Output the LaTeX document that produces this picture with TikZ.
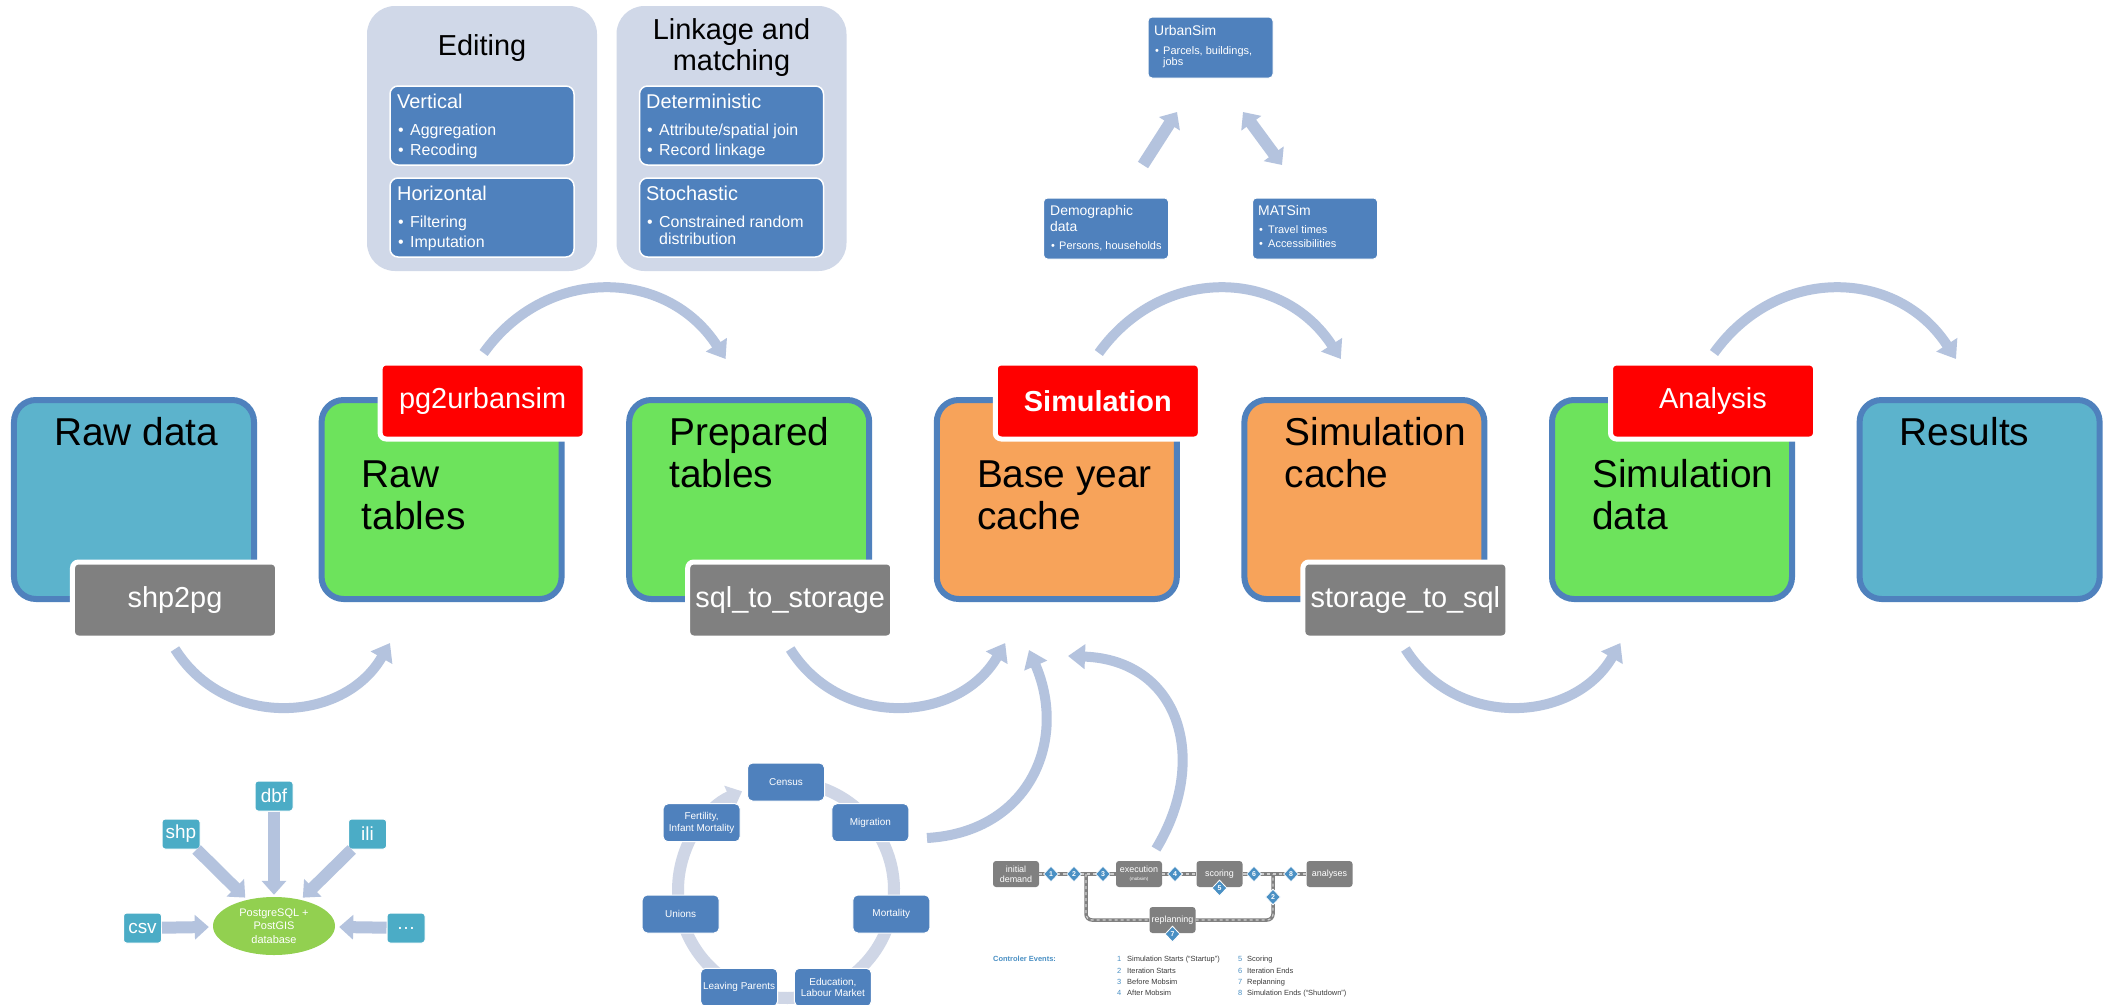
\documentclass[tikz,border=0pt]{standalone}
\usepackage{fontspec}
\setmainfont{Liberation Sans}
\usetikzlibrary{arrows.meta,shapes.geometric}

\definecolor{flowarrow}{RGB}{180,195,222}
\definecolor{panelbg}{RGB}{208,216,232}
\definecolor{accentblue}{RGB}{79,129,189}
\definecolor{rawblue}{RGB}{92,179,204}
\definecolor{tablegreen}{RGB}{109,227,92}
\definecolor{cacheorange}{RGB}{247,163,90}
\definecolor{toolgray}{RGB}{128,128,128}
\definecolor{formatteal}{RGB}{75,172,198}
\definecolor{dbgreen}{RGB}{146,208,80}
\definecolor{ringcol}{RGB}{207,214,230}
\definecolor{eventblue}{RGB}{74,144,196}
\definecolor{eventtext}{RGB}{60,60,60}
\definecolor{railgray}{RGB}{205,205,205}

\newcommand\setfs[1]{\fontsize{#1}{#1}\selectfont}
\newcommand\setfsl[2]{\fontsize{#1}{#2}\selectfont}

\begin{document}
\begin{tikzpicture}[x=1bp, y=-1bp,
  stage/.style={draw=accentblue, line width=6bp, rounded corners=22bp,
    minimum width=240bp, minimum height=199bp, inner sep=0pt},
  stagetext/.style={anchor=base west, inner sep=0pt, font=\setfs{39}},
  tooltag/.style={draw=white, line width=5bp, rounded corners=6bp,
    minimum width=205bp, minimum height=76bp, inner sep=0pt, text=white, font=\setfs{29}},
  redtag/.style={tooltag, fill=red},
  graytag/.style={tooltag, fill=toolgray},
  flow/.style={draw=flowarrow, line width=10bp, -{Triangle[width=24bp,length=17bp]}},
  block/.style={draw=flowarrow, line width=12bp, -{Triangle[width=24bp,length=14bp]}},
  panel/.style={fill=panelbg, rounded corners=28bp, minimum width=230bp,
    minimum height=265bp, inner sep=0pt},
  paneltitle/.style={anchor=base, inner sep=0pt, font=\setfs{29}},
  card/.style={fill=accentblue, draw=white, line width=1.5bp, rounded corners=8bp,
    minimum width=184bp, minimum height=79bp, inner sep=0pt},
  cardhead/.style={anchor=base west, inner sep=0pt, text=white, font=\setfs{20}},
  carditem/.style={anchor=base west, inner sep=0pt, text=white, font=\setfs{16}},
  usim/.style={fill=accentblue, draw=white, line width=1bp, rounded corners=4bp,
    minimum width=125bp, minimum height=61bp, inner sep=0pt},
  usimhead/.style={anchor=base west, inner sep=0pt, text=white, font=\setfs{14}},
  usimitem/.style={anchor=base west, inner sep=0pt, text=white, font=\setfs{11}},
  fmt/.style={fill=formatteal, draw=white, line width=1bp, rounded corners=3bp,
    minimum width=38bp, minimum height=30bp, inner sep=0pt, text=white, font=\setfs{19}},
  dbnode/.style={ellipse, fill=dbgreen, minimum width=122bp, minimum height=58bp,
    inner sep=0pt, text=white, align=center, font=\setfsl{11}{13.5}},
  demo/.style={fill=accentblue, draw=white, line width=1bp, rounded corners=5bp,
    minimum width=77bp, minimum height=38bp, inner sep=0pt, text=white,
    align=center, font=\setfsl{10}{11.5}},
  ring/.style={draw=ringcol, line width=12bp, -{Triangle[width=24bp,length=14bp]}},
  mbox/.style={fill=toolgray, rounded corners=3bp, minimum width=46bp,
    minimum height=26bp, inner sep=0pt, text=white, align=center, font=\setfsl{9}{10}},
  rail/.style={draw=toolgray, line width=3.5bp},
  railmark/.style={draw=railgray, line width=1.2bp, dash pattern=on 3bp off 3bp},
  evt/.style={diamond, fill=eventblue, draw=white, line width=0.8bp,
    minimum width=15bp, minimum height=16bp, inner sep=0pt, text=white,
    font=\bfseries\setfs{7}},
  legnum/.style={anchor=base west, inner sep=0pt, text=eventblue, font=\setfs{7.5}},
  legtext/.style={anchor=base west, inner sep=0pt, text=eventtext, font=\setfs{7.5}},
]

\fill[white] (0,0) rectangle (2111,1005);
\useasboundingbox (0,0) rectangle (2111,1005);

% ---------- connecting arcs between the stages ----------
\coordinate (arcA-s) at (175,649);    \coordinate (arcA-e) at (390,643);
\coordinate (arcB-s) at (790.2,649);  \coordinate (arcB-e) at (1005.2,643);
\coordinate (arcC-s) at (1405.4,649); \coordinate (arcC-e) at (1620.4,643);
\coordinate (arcD-s) at (483.6,353);  \coordinate (arcD-e) at (725.6,359);
\coordinate (arcE-s) at (1098.8,353); \coordinate (arcE-e) at (1340.8,359);
\coordinate (arcF-s) at (1714,353);   \coordinate (arcF-e) at (1956,359);

\draw[flow] (arcA-s) .. controls (225,729) and (343,724) .. (arcA-e);
\draw[flow] (arcB-s) .. controls (840.2,729) and (958.2,724) .. (arcB-e);
\draw[flow] (arcC-s) .. controls (1455.4,729) and (1573.4,724) .. (arcC-e);
\draw[flow] (arcD-s) .. controls (546.6,265) and (666.6,268) .. (arcD-e);
\draw[flow] (arcE-s) .. controls (1161.8,265) and (1281.8,268) .. (arcE-e);
\draw[flow] (arcF-s) .. controls (1777,265) and (1897,268) .. (arcF-e);

% inputs feeding the base year cache
\coordinate (demo-out) at (927,838);   \coordinate (demo-in) at (1029,650);
\coordinate (ctrl-out) at (1156,849);  \coordinate (ctrl-in) at (1068,656);
\draw[flow] (demo-out) .. controls (1030,832) and (1068,740) .. (demo-in);
\draw[flow] (ctrl-out) .. controls (1210,760) and (1180,660) .. (ctrl-in);

% ---------- stages ----------
\node[stage, fill=rawblue]     (rawdata)    at (134,499.5)    {};
\node[stage, fill=tablegreen]  (rawtables)  at (441.6,499.5)  {};
\node[stage, fill=tablegreen]  (preptables) at (749.2,499.5)  {};
\node[stage, fill=cacheorange] (basecache)  at (1056.8,499.5) {};
\node[stage, fill=cacheorange] (simcache)   at (1364.4,499.5) {};
\node[stage, fill=tablegreen]  (simdata)    at (1672,499.5)   {};
\node[stage, fill=rawblue]     (results)    at (1979.6,499.5) {};

\node[stagetext] (rawdata-l1)    at (54,445)     {Raw data};
\node[stagetext] (rawtables-l1)  at (361.6,487)  {Raw};
\node[stagetext] (rawtables-l2)  at (361.6,529)  {tables};
\node[stagetext] (preptables-l1) at (669.2,445)  {Prepared};
\node[stagetext] (preptables-l2) at (669.2,487)  {tables};
\node[stagetext] (basecache-l1)  at (976.8,487)  {Base year};
\node[stagetext] (basecache-l2)  at (976.8,529)  {cache};
\node[stagetext] (simcache-l1)   at (1284.4,445) {Simulation};
\node[stagetext] (simcache-l2)   at (1284.4,487) {cache};
\node[stagetext] (simdata-l1)    at (1592,487)   {Simulation};
\node[stagetext] (simdata-l2)    at (1592,529)   {data};
\node[stagetext] (results-l1)    at (1899.6,445) {Results};

% ---------- tools ----------
\node[redtag]  (pg2urbansim)  at (482.6,401)  {pg2urbansim};
\node[redtag]  (simulation)   at (1097.8,401) {\bfseries Simulation};
\node[redtag]  (analysis)     at (1713,401)   {Analysis};
\node[graytag] (shp2pg)       at (175,600)    {shp2pg};
\node[graytag] (sqltostorage) at (790.2,600)  {sql\_to\_storage};
\node[graytag] (storagetosql) at (1405.4,600) {storage\_to\_sql};

% ---------- editing / linkage panels ----------
\node[panel] (editing) at (482,138.5) {};
\node[panel] (linkage) at (731.5,138.5) {};
\node[paneltitle] (editing-l1) at (482,55)   {Editing};
\node[paneltitle] (linkage-l1) at (731.5,39) {Linkage and};
\node[paneltitle] (linkage-l2) at (731.5,70) {matching};

\node[card] (vertical)      at (482,125.5)   {};
\node[card] (horizontal)    at (482,217.5)   {};
\node[card] (deterministic) at (731.5,125.5) {};
\node[card] (stochastic)    at (731.5,217.5) {};

\node[cardhead] (vertical-h)      at (397,108) {Vertical};
\node[carditem] (vertical-b1)     at (398,135) {\textbullet};
\node[carditem] (vertical-i1)     at (410,135) {Aggregation};
\node[carditem] (vertical-b2)     at (398,155) {\textbullet};
\node[carditem] (vertical-i2)     at (410,155) {Recoding};
\node[cardhead] (horizontal-h)    at (397,200) {Horizontal};
\node[carditem] (horizontal-b1)   at (398,227) {\textbullet};
\node[carditem] (horizontal-i1)   at (410,227) {Filtering};
\node[carditem] (horizontal-b2)   at (398,247) {\textbullet};
\node[carditem] (horizontal-i2)   at (410,247) {Imputation};
\node[cardhead] (deterministic-h) at (646,108) {Deterministic};
\node[carditem] (deterministic-b1) at (647,135) {\textbullet};
\node[carditem] (deterministic-i1) at (659,135) {Attribute/spatial join};
\node[carditem] (deterministic-b2) at (647,155) {\textbullet};
\node[carditem] (deterministic-i2) at (659,155) {Record linkage};
\node[cardhead] (stochastic-h)    at (646,200) {Stochastic};
\node[carditem] (stochastic-b1)   at (647,227) {\textbullet};
\node[carditem] (stochastic-i1)   at (659,227) {Constrained random};
\node[carditem] (stochastic-i2)   at (659,244) {distribution};

% ---------- model coupling ----------
\node[usim] (urbansim) at (1210.5,47.5) {};
\node[usim] (demog)    at (1106,228.5)  {};
\node[usim] (matsim)   at (1315,228.5)  {};

\node[usimhead] (urbansim-h)  at (1154,35)  {UrbanSim};
\node[usimitem] (urbansim-b1) at (1155,54)  {\textbullet};
\node[usimitem] (urbansim-i1) at (1163,54)  {Parcels, buildings,};
\node[usimitem] (urbansim-i2) at (1163,65)  {jobs};
\node[usimhead] (demog-h1)    at (1050,215) {Demographic};
\node[usimhead] (demog-h2)    at (1050,231) {data};
\node[usimitem] (demog-b1)    at (1051,249) {\textbullet};
\node[usimitem] (demog-i1)    at (1059,249) {Persons, households};
\node[usimhead] (matsim-h)    at (1258,215) {MATSim};
\node[usimitem] (matsim-b1)   at (1259,233) {\textbullet};
\node[usimitem] (matsim-i1)   at (1268,233) {Travel times};
\node[usimitem] (matsim-b2)   at (1259,247) {\textbullet};
\node[usimitem] (matsim-i2)   at (1268,247) {Accessibilities};

\coordinate (demog-up)    at (1143,165);
\coordinate (urbansim-dl) at (1177,112);
\coordinate (urbansim-dr) at (1243,112);
\coordinate (matsim-up)   at (1282,165);
\draw[block] (demog-up) -- (urbansim-dl);
\draw[block, {Triangle[width=24bp,length=14bp]}-{Triangle[width=24bp,length=14bp]}]
  (urbansim-dr) -- (matsim-up);

% ---------- raw formats into the database ----------
\node[fmt] (dbf)  at (274,796)   {dbf};
\node[fmt] (shp)  at (181,834)   {shp};
\node[fmt] (ili)  at (367.5,834) {ili};
\node[fmt] (csv)  at (142.5,928) {csv};
\node[fmt] (more) at (406,928)   {…};
\node[dbnode] (pgdb) at (274,926) {PostgreSQL +\\PostGIS\\database};

\draw[block, shorten >=3bp] (shp)  -- (pgdb);
\draw[block, shorten >=2bp] (dbf)  -- (pgdb);
\draw[block, shorten >=3bp] (ili)  -- (pgdb);
\draw[block, shorten >=4bp] (csv)  -- (pgdb);
\draw[block, shorten >=4bp] (more) -- (pgdb);

% ---------- demography cycle ----------
\draw[ring] (786,890) ++(-85:108) arc[start angle=-85, end angle=246, radius=108];
\node[demo] (census)    at (786,782)     {Census};
\node[demo] (migration) at (870.4,822.7) {Migration};
\node[demo] (mortality) at (891.3,914)   {Mortality};
\node[demo] (education) at (832.9,987.3) {Education,\\Labour Market};
\node[demo] (leaving)   at (739.1,987.3) {Leaving Parents};
\node[demo] (unions)    at (680.7,914)   {Unions};
\node[demo] (fertility) at (701.6,822.7) {Fertility,\\Infant Mortality};

% ---------- MATSim controler loop ----------
\node[mbox] (initdem)  at (1016,874)    {initial\\demand};
\node[mbox] (exec)     at (1139,874)    {execution\\[-2bp]{\setfs{4.5}(mobsim)}};
\node[mbox] (scoring)  at (1219.5,874)  {scoring};
\node[mbox] (analyses) at (1329.5,874)  {analyses};
\node[mbox] (replan)   at (1172.5,920)  {replanning};
\coordinate (loop-a) at (1086,874);
\coordinate (loop-b) at (1273,874);

\foreach \sty in {rail, railmark}{
  \draw[\sty] (initdem.east) -- (exec.west);
  \draw[\sty] (exec.east) -- (scoring.west);
  \draw[\sty] (scoring.east) -- (analyses.west);
  \draw[\sty, rounded corners=6bp] (loop-a) |- (replan.west);
  \draw[\sty, rounded corners=6bp] (replan.east) -| (loop-b);
}

\node[evt] (ev1)  at (1051,874)    {1};
\node[evt] (ev2)  at (1074,874)    {2};
\node[evt] (ev3)  at (1103,874)    {3};
\node[evt] (ev4)  at (1175,874)    {4};
\node[evt] (ev5)  at (1219.5,888)  {5};
\node[evt] (ev6)  at (1254,874)    {6};
\node[evt] (ev8)  at (1291,874)    {8};
\node[evt] (ev2b) at (1273,897)    {2};
\node[evt] (ev7)  at (1172.5,934)  {7};

\node[legnum, font=\bfseries\setfs{7.5}] (leg-title) at (993,961) {Controler Events:};
\node[legnum]  (leg-n1) at (1117,961) {1};
\node[legtext] (leg-t1) at (1127,961) {Simulation Starts (“Startup”)};
\node[legnum]  (leg-n2) at (1117,973) {2};
\node[legtext] (leg-t2) at (1127,973) {Iteration Starts};
\node[legnum]  (leg-n3) at (1117,984) {3};
\node[legtext] (leg-t3) at (1127,984) {Before Mobsim};
\node[legnum]  (leg-n4) at (1117,995) {4};
\node[legtext] (leg-t4) at (1127,995) {After Mobsim};
\node[legnum]  (leg-n5) at (1238,961) {5};
\node[legtext] (leg-t5) at (1247,961) {Scoring};
\node[legnum]  (leg-n6) at (1238,973) {6};
\node[legtext] (leg-t6) at (1247,973) {Iteration Ends};
\node[legnum]  (leg-n7) at (1238,984) {7};
\node[legtext] (leg-t7) at (1247,984) {Replanning};
\node[legnum]  (leg-n8) at (1238,995) {8};
\node[legtext] (leg-t8) at (1247,995) {Simulation Ends (“Shutdown”)};

\end{tikzpicture}
\end{document}
